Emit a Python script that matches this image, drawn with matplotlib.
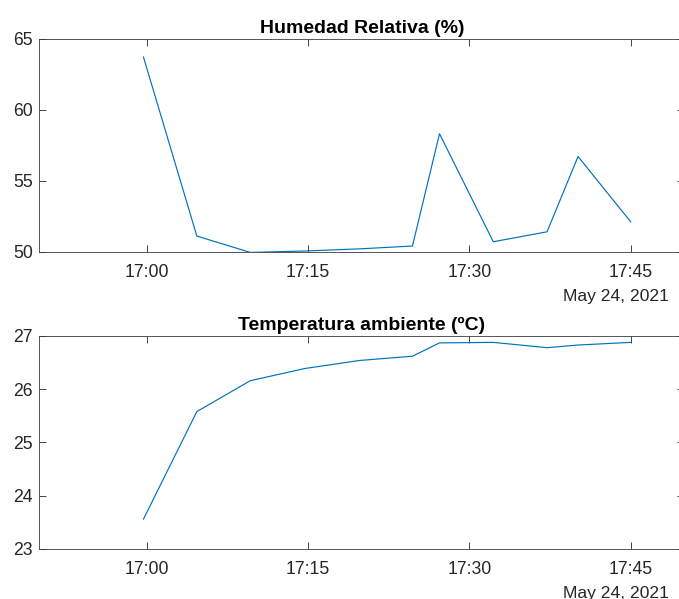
import matplotlib
matplotlib.use("Agg")
import matplotlib.pyplot as plt
import matplotlib.dates as mdates
import pandas as pd

# Data
fecha = "2021-05-24"
horas = ["16:59:41", "17:04:39", "17:09:37", "17:14:43", "17:19:47", "17:24:42",
         "17:27:13", "17:32:13", "17:37:13", "17:40:06", "17:45:00"]
humedad = [63.7, 51.1, 49.95, 50.05, 50.2, 50.4, 58.3, 50.7, 51.4, 56.7, 52.1]
temperatura = [23.56, 25.58, 26.16, 26.39, 26.54, 26.62, 26.87, 26.88, 26.78, 26.83, 26.88]

titulos = ["Humedad Relativa (%)", "Temperatura ambiente (ºC)"]
yticks_hum = [50, 55, 60, 65]
yticks_temp = [23, 24, 25, 26, 27]
etiqueta_fecha = "May 24, 2021"

tiempos = pd.to_datetime([f"{fecha} {h}" for h in horas])
xlim = pd.to_datetime([f"{fecha} 16:50:00", f"{fecha} 17:50:00"])

plt.rcParams['font.family'] = ['Liberation Sans', 'DejaVu Sans']
texto = '#262626'
linea = '#0072BD'

fig = plt.figure(figsize=(6.79, 5.99), dpi=100)
ax1 = fig.add_axes([0.0579, 0.5798, 0.9502, 0.3559])
ax2 = fig.add_axes([0.0579, 0.0835, 0.9502, 0.3556])

for ax, y, titulo, yt in [(ax1, humedad, titulos[0], yticks_hum),
                          (ax2, temperatura, titulos[1], yticks_temp)]:
    ax.plot(tiempos, y, color=linea, linewidth=0.85)
    ax.set_xlim(xlim[0], xlim[1])
    ax.set_ylim(yt[0], yt[-1])
    ax.set_yticks(yt)
    ax.xaxis.set_major_locator(mdates.MinuteLocator(byminute=[0, 15, 30, 45]))
    ax.xaxis.set_major_formatter(mdates.DateFormatter('%H:%M'))
    ax.tick_params(direction='in', length=4.8, width=0.6, colors=texto,
                   labelsize=12.7, top=True, right=True)
    ax.tick_params(axis='x', pad=9)
    ax.tick_params(axis='y', pad=4.5)
    for s in ax.spines.values():
        s.set_color('#3a3a3a')
        s.set_linewidth(0.6)
    ax.set_title(titulo, fontsize=14, fontweight='bold', color='black', pad=4)
    ax.annotate(etiqueta_fecha, xy=(1, 0), xycoords='axes fraction',
                xytext=(-16, -45), textcoords='offset pixels',
                ha='right', va='center', fontsize=12.6, color=texto,
                annotation_clip=False)

fig.savefig("out.png", dpi=100, facecolor='white')
